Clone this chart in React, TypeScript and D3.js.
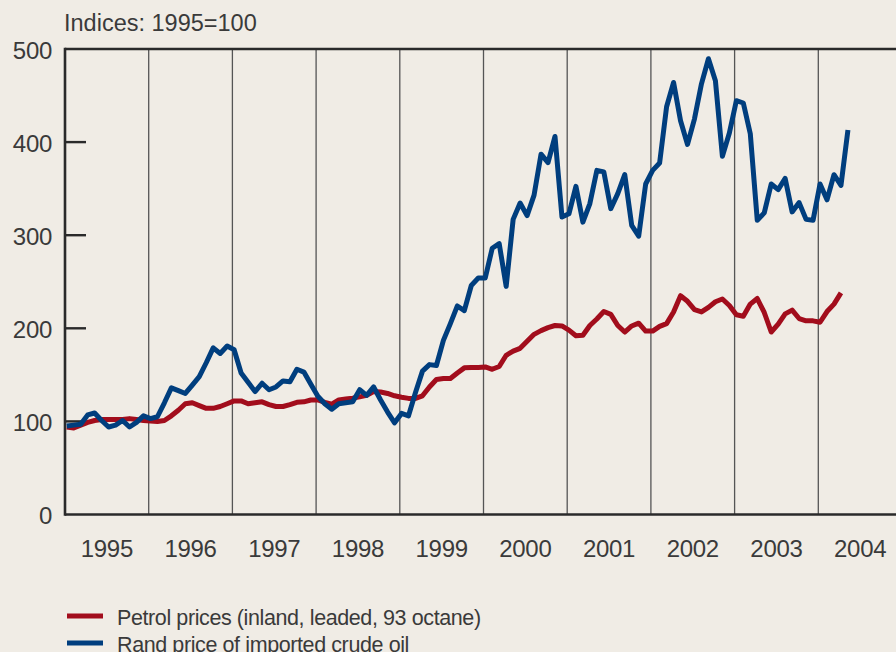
import React from "react";
import * as d3 from "d3";

const years = ["1995", "1996", "1997", "1998", "1999", "2000", "2001", "2002", "2003", "2004"];
const yTicks = [0, 100, 200, 300, 400, 500];

// Monthly indices from Jan 1995
const petrol = [
  94, 93, 96, 99, 101, 102, 102, 102, 102, 103, 102, 101,
  100.5, 100, 101, 106, 112, 119, 120, 117, 114, 114, 116, 119,
  122, 122, 119, 120, 121, 118, 116, 116, 118, 120.5, 121, 123,
  123, 120.5, 118.6, 123, 124, 125, 126.4, 128, 132, 131.5, 130, 127.5,
  126, 124.7, 124.7, 127.5, 137, 145, 146, 146, 152, 157.5, 158, 158,
  158.5, 156, 159, 171, 175.5, 178.5, 186, 193.5, 197.5, 200.7, 203, 202.5,
  198, 192, 192.5, 203, 210, 218, 215, 203, 196, 202.5, 205.5, 197,
  197, 202, 205, 217.5, 235, 229, 220, 217.6, 222.5, 228.5, 231.5, 224.5,
  214.5, 213, 226, 232, 217, 196, 204.5, 215.5, 219.5, 210.5, 208, 208,
  206.5, 218, 226, 238,
];

const crude = [
  95, 96, 97, 107, 109, 101, 94, 96, 101, 94, 99, 106,
  103, 105, 120, 136, 133, 130, 139, 148, 163, 179, 173, 181,
  177, 152, 142, 132, 141, 134, 137, 143.5, 142.5, 156, 153, 140,
  127, 119, 113, 119, 120, 121, 134, 128, 137, 123, 110, 98.5,
  108.6, 106, 131, 154, 161, 160, 187, 205, 224, 219, 246, 254,
  254, 286, 291, 245, 317, 334.5, 321, 343, 387, 378, 406, 319.5,
  323, 352.5, 314, 334, 369.6, 368, 328.5, 344.6, 365, 310.6, 299, 355,
  369.6, 377.5, 438, 464, 423, 397.5, 425, 462.6, 489.5, 466, 384.7, 409.7,
  444.5, 442, 409, 316, 324, 355, 349, 361, 325, 335, 317, 316,
  355, 338, 365, 353.5, 413,
];

const legendItems = [
  { label: "Petrol prices (inland, leaded, 93 octane)", color: "#a20d1c" },
  { label: "Rand price of imported crude oil", color: "#003e7e" },
];

const W = 896;
const H = 652;
const left = 65;
const top = 49;
const bottom = 514.5;
const monthW = 6.975;

export default function App() {
  const x = d3.scaleLinear().domain([0, 120]).range([left, left + 120 * monthW]);
  const y = d3.scaleLinear().domain([0, 500]).range([bottom, top]);
  const line = d3
    .line<number>()
    .x((_, i) => x(i + 0.25))
    .y((d) => y(d));

  const font = "'Liberation Sans', Arial, Helvetica, sans-serif";
  const textColor = "#3a3a3a";

  return (
    <svg
      width={W}
      height={H}
      style={{ position: "absolute", left: 0, top: 0, background: "#f0ece5" }}
      fontFamily={font}
    >
      <rect x={0} y={0} width={W} height={H} fill="#f0ece5" />
      <text x={64} y={31} fontSize={23.5} fill={textColor}>
        Indices: 1995=100
      </text>
      {/* year separators */}
      {years.slice(1).map((yr, k) => (
        <line
          key={yr}
          x1={x((k + 1) * 12)}
          x2={x((k + 1) * 12)}
          y1={top}
          y2={bottom}
          stroke="#555"
          strokeWidth={1.3}
        />
      ))}
      {/* y ticks and labels */}
      {yTicks.map((t) => (
        <g key={t}>
          {t > 0 && t < 500 && (
            <line x1={left} x2={left + 21} y1={y(t)} y2={y(t)} stroke="#2a2a2a" strokeWidth={2.4} />
          )}
          <text
            x={52}
            y={y(t) + 1}
            textAnchor="end"
            dominantBaseline="central"
            fontSize={24}
            fill={textColor}
            letterSpacing={-0.3}
          >
            {t}
          </text>
        </g>
      ))}
      {/* frame */}
      <line x1={left} x2={W} y1={top} y2={top} stroke="#2a2a2a" strokeWidth={2.4} />
      <line x1={left} x2={W} y1={bottom} y2={bottom} stroke="#2a2a2a" strokeWidth={2.6} />
      <line x1={left} x2={left} y1={top - 1.2} y2={bottom + 1.3} stroke="#2a2a2a" strokeWidth={2.6} />
      {/* x labels */}
      {years.map((yr, k) => (
        <text
          key={yr}
          x={x(k * 12 + 6)}
          y={557}
          textAnchor="middle"
          fontSize={24}
          fill={textColor}
          letterSpacing={-0.3}
        >
          {yr}
        </text>
      ))}
      {/* data lines */}
      <path d={line(petrol) || ""} fill="none" stroke={legendItems[0].color} strokeWidth={5} strokeLinejoin="round" />
      <path d={line(crude) || ""} fill="none" stroke={legendItems[1].color} strokeWidth={5} strokeLinejoin="round" />
      {/* legend */}
      {legendItems.map((it, k) => (
        <g key={it.label}>
          <line x1={67} x2={103} y1={616 + k * 27} y2={616 + k * 27} stroke={it.color} strokeWidth={5.2} />
          <text x={117} y={625 + k * 27} fontSize={21.5} fill={textColor} letterSpacing={-0.4}>
            {it.label}
          </text>
        </g>
      ))}
    </svg>
  );
}
